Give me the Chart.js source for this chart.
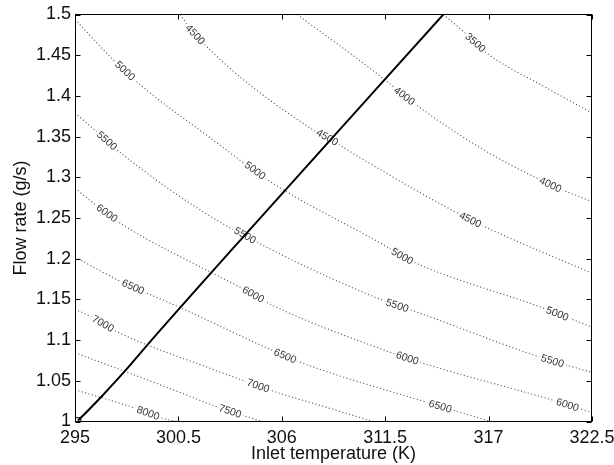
<!DOCTYPE html>
<html>
<head>
<meta charset="utf-8">
<script src="https://cdn.jsdelivr.net/npm/chart.js@4.4.1/dist/chart.umd.min.js"></script>
<style>
  html, body { margin: 0; padding: 0; background: #fff; }
  #wrap { width: 614px; height: 465px; }
</style>
</head>
<body>
<div id="wrap"><canvas id="contour"></canvas></div>
<script>
// axes
const xTicks = [295, 300.5, 306, 311.5, 317, 322.5];
const yTicks = [1, 1.05, 1.1, 1.15, 1.2, 1.25, 1.3, 1.35, 1.4, 1.45, 1.5];

// operating line (inlet temperature K, flow rate g/s)
const opLine = [
  [295.16, 1.0012], [295.8, 1.016], [296.49, 1.0326], [297.66, 1.0621],
  [298.99, 1.0978], [303.94, 1.2266], [314.59, 1.5],
];

// contour lines
const c3500 = [[314.59, 1.5], [315.66, 1.479], [316.99, 1.451], [319.76, 1.414], [322.5, 1.379]];
const c4000 = [[306.82, 1.5], [311.61, 1.4175], [312.57, 1.399], [316.72, 1.334], [320.29, 1.291], [322.5, 1.27]];
const c4500 = [[300.59, 1.5], [301.39, 1.4754], [307.67, 1.358], [308.42, 1.349], [310.17, 1.324], [316.03, 1.248], [322.5, 1.182]];
const c5000 = [[295, 1.494], [297.02, 1.4446], [298.46, 1.4138], [302.19, 1.3485], [305.49, 1.2931], [311.61, 1.2143], [312.57, 1.2007], [319.92, 1.1392], [322.5, 1.1158]];
const c5500 = [[295, 1.379], [296.17, 1.3559], [297.56, 1.3276], [301.66, 1.2599], [304.96, 1.2168], [311.61, 1.1466], [313.21, 1.1342], [319.76, 1.0788], [322.5, 1.0603]];
const c6000 = [[295, 1.2866], [295.96, 1.2685], [297.56, 1.2414], [302.19, 1.1836], [303.78, 1.1651], [305.49, 1.1429], [311.77, 1.085], [313.53, 1.0714], [320.45, 1.0259], [322.5, 1.0111]];
const c6500 = [[295, 1.202], [297.4, 1.1724], [300.43, 1.1416], [305.49, 1.0874], [306.98, 1.0727], [313.74, 1.0234], [317.1, 1.0]];
const c7000 = [[295, 1.1379], [295.8, 1.1293], [297.29, 1.1096], [302.19, 1.0653], [303.94, 1.0505], [305.75, 1.0357], [308.04, 1.0197], [310.87, 1.0]];
const c7500 = [[295, 1.0846], [300.59, 1.0357], [302.35, 1.0197], [303.94, 1.0074], [304.96, 1.0]];
const c8000 = [[295, 1.039], [298.09, 1.0172], [299.69, 1.0037], [300.43, 1.0]];

const contours = {
  3500: c3500, 4000: c4000, 4500: c4500, 5000: c5000, 5500: c5500,
  6000: c6000, 6500: c6500, 7000: c7000, 7500: c7500, 8000: c8000,
};

// where the labels sit on each contour (x position only)
const contourLabels = [
  [3500, 316.3],
  [4000, 312.52], [4000, 320.29],
  [4500, 301.39], [4500, 308.42], [4500, 316.03],
  [5000, 297.66], [5000, 304.58], [5000, 312.41], [5000, 320.66],
  [5500, 296.7], [5500, 304.05], [5500, 312.14], [5500, 320.4],
  [6000, 296.7], [6000, 304.48], [6000, 312.68], [6000, 321.2],
  [6500, 298.09], [6500, 306.18], [6500, 314.43],
  [7000, 296.49], [7000, 304.74],
  [7500, 303.25],
  [8000, 298.89],
];

const FONT = "'Liberation Sans', Arial, Helvetica, sans-serif";

const datasets = [
  {
    data: opLine.map(([x, y]) => ({ x, y })),
    borderColor: "#000",
    borderWidth: 2,
    pointRadius: (c) => (c.dataIndex === 0 ? 4 : 0),
    pointStyle: "rect",
    pointBorderColor: "#000",
    pointBackgroundColor: "rgba(0,0,0,0)",
    pointBorderWidth: 1,
    cubicInterpolationMode: "monotone",
  },
];
Object.keys(contours).forEach((lvl) => {
  datasets.push({
    data: contours[lvl].map(([x, y]) => ({ x, y })),
    borderColor: "#555",
    borderWidth: 1.1,
    borderDash: [1.1, 2.4],
    pointRadius: 0,
    cubicInterpolationMode: "monotone",
  });
});

// labels go on top of the dotted lines but under the black line
const labelPlugin = {
  id: "contourLabels",
  beforeDatasetDraw(chart, args) {
    if (args.index !== 0) return;
    const ctx = chart.ctx;
    const xs = chart.scales.x, ys = chart.scales.y;
    ctx.save();
    ctx.font = "10.5px " + FONT;
    ctx.textAlign = "center";
    ctx.textBaseline = "middle";
    contourLabels.forEach(([lvl, lx]) => {
      const pts = contours[lvl].map(([x, y]) => [xs.getPixelForValue(x), ys.getPixelForValue(y)]);
      const at = (px) => {
        for (let i = 0; i < pts.length - 1; i++) {
          if (px <= pts[i + 1][0] || i === pts.length - 2) {
            const t = (px - pts[i][0]) / (pts[i + 1][0] - pts[i][0]);
            return pts[i][1] + t * (pts[i + 1][1] - pts[i][1]);
          }
        }
      };
      const cx = xs.getPixelForValue(lx);
      const cy = at(cx);
      const ang = Math.atan2(at(cx + 6) - at(cx - 6), 12);
      const txt = String(lvl);
      const w = ctx.measureText(txt).width;
      ctx.save();
      ctx.translate(cx, cy);
      ctx.rotate(ang);
      ctx.fillStyle = "#fff";
      ctx.fillRect(-w / 2 - 2, -4.5, w + 4, 9);
      ctx.fillStyle = "#333";
      ctx.fillText(txt, 0, 0.5);
      ctx.restore();
    });
    ctx.restore();
  },
};

// box round the plot with inward ticks
const framePlugin = {
  id: "frame",
  afterDraw(chart) {
    const { ctx, chartArea: a } = chart;
    const xs = chart.scales.x, ys = chart.scales.y;
    const L = Math.round(a.left) + 0.5, R = Math.round(a.right) - 0.5;
    const T = Math.floor(a.top) + 0.5, B = Math.floor(a.bottom) + 0.5;
    ctx.save();
    ctx.strokeStyle = "#000";
    ctx.lineWidth = 1;
    ctx.strokeRect(L, T, R - L, B - T);
    ctx.beginPath();
    xTicks.forEach((v) => {
      const px = Math.round(xs.getPixelForValue(v)) + 0.5;
      ctx.moveTo(px, B); ctx.lineTo(px, B - 5);
      ctx.moveTo(px, T); ctx.lineTo(px, T + 5);
    });
    yTicks.forEach((v) => {
      const py = Math.round(ys.getPixelForValue(v)) + 0.5;
      ctx.moveTo(L, py); ctx.lineTo(L + 5, py);
      ctx.moveTo(R, py); ctx.lineTo(R - 5, py);
    });
    ctx.stroke();
    ctx.restore();
  },
};

const ctx = document.getElementById("contour").getContext("2d");
const contourChart = new Chart(ctx, {
  type: "line",
  data: { datasets: datasets },
  options: {
    responsive: true,
    maintainAspectRatio: false,
    animation: false,
    layout: { padding: { top: 14.5, right: 22, bottom: 0, left: 0 } },
    plugins: {
      legend: { display: false },
      tooltip: { enabled: false },
    },
    scales: {
      x: {
        type: "linear",
        min: 295,
        max: 322.5,
        grid: { display: false, drawTicks: false },
        border: { display: false },
        afterBuildTicks: (s) => { s.ticks = xTicks.map((v) => ({ value: v })); },
        afterFit: (s) => { s.height = 43.5; s.paddingLeft = 0; s.paddingRight = 0; },
        ticks: {
          autoSkip: false,
          maxRotation: 0,
          padding: 6,
          color: "#111",
          font: { size: 18, family: FONT },
          callback: (v) => String(v),
        },
        title: {
          display: true,
          text: "Inlet temperature (K)",
          color: "#111",
          font: { size: 18, family: FONT },
          padding: { top: 0, bottom: 0 },
        },
      },
      y: {
        min: 1,
        max: 1.5,
        grid: { display: false, drawTicks: false },
        border: { display: false },
        afterBuildTicks: (s) => { s.ticks = yTicks.map((v) => ({ value: v })); },
        afterFit: (s) => { s.width = 75; s.paddingTop = 0; s.paddingBottom = 0; },
        ticks: {
          autoSkip: false,
          padding: 4,
          color: "#111",
          font: { size: 18, family: FONT },
          callback: (v) => String(v),
        },
        title: {
          display: true,
          text: "Flow rate (g/s)",
          color: "#111",
          font: { size: 18, family: FONT },
          padding: { top: 10, bottom: 0 },
        },
      },
    },
  },
  plugins: [labelPlugin, framePlugin],
});
</script>
</body>
</html>
